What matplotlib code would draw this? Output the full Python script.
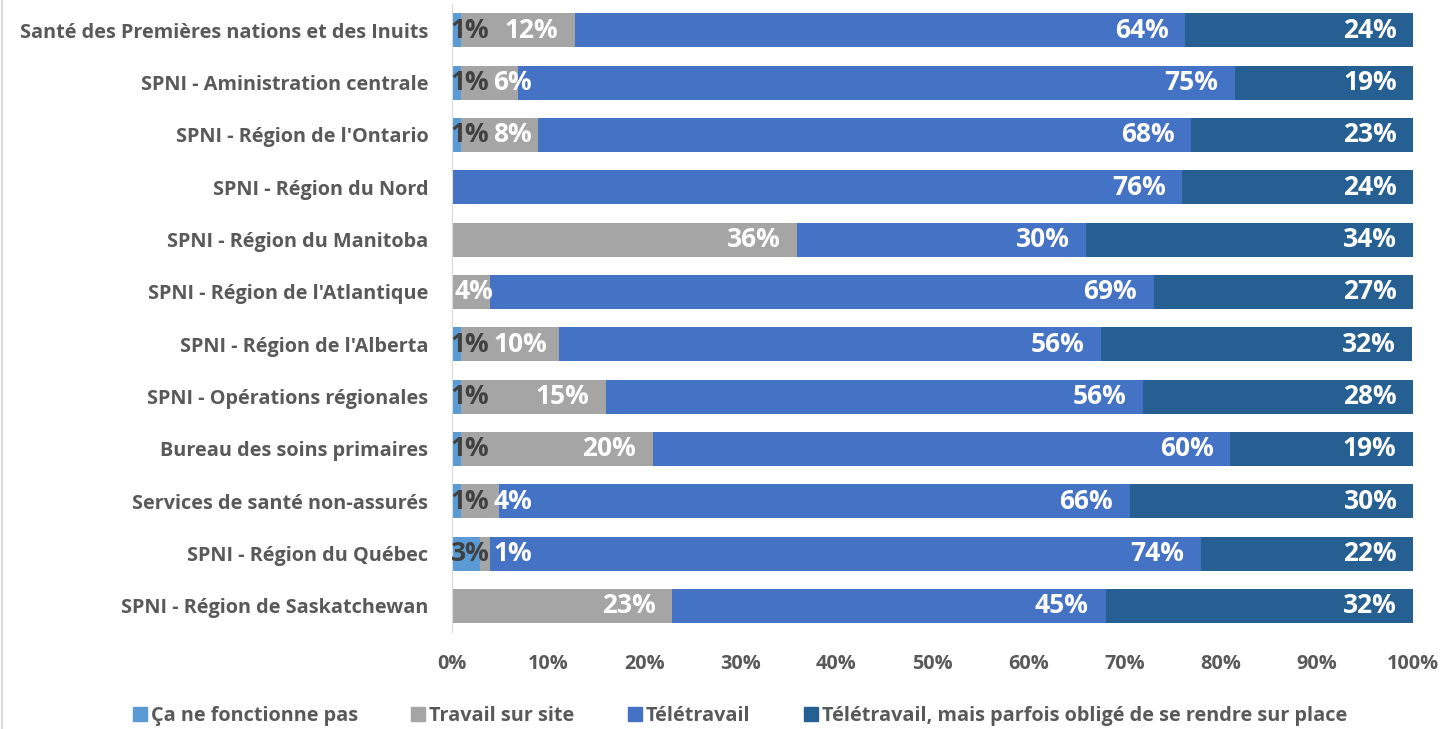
import matplotlib.pyplot as plt
import numpy as np
from matplotlib.lines import Line2D

plt.rcParams['font.family'] = ['Open Sans', 'DejaVu Sans']
plt.rcParams['font.weight'] = 'bold'

categories = [
    "Santé des Premières nations et des Inuits",
    "SPNI - Aministration centrale",
    "SPNI - Région de l'Ontario",
    "SPNI - Région du Nord",
    "SPNI - Région du Manitoba",
    "SPNI - Région de l'Atlantique",
    "SPNI - Région de l'Alberta",
    "SPNI - Opérations régionales",
    "Bureau des soins primaires",
    "Services de santé non-assurés",
    "SPNI - Région du Québec",
    "SPNI - Région de Saskatchewan",
]
series_names = ["Ça ne fonctionne pas", "Travail sur site", "Télétravail",
                "Télétravail, mais parfois obligé de se rendre sur place"]

ne_fonctionne_pas = [0.9, 0.9, 0.9, 0, 0, 0, 0.9, 0.9, 0.9, 0.9, 2.9, 0]
sur_site = [11.9, 6.0, 8.0, 0, 35.9, 4.0, 10.2, 15.1, 20.0, 4.0, 1.1, 22.9]
teletravail = [63.5, 74.6, 68.0, 76.0, 30.1, 69.0, 56.4, 55.9, 60.1, 65.6, 73.9, 45.1]
parfois_sur_place = [23.7, 18.6, 23.1, 24.0, 34.0, 27.0, 32.4, 28.1, 19.0, 29.6, 22.1, 32.0]

colors = ['#5B9BD5', '#A5A5A5', '#4472C4', '#265F91']
label_colors = ['#404040', 'white', 'white', 'white']

fig = plt.figure(figsize=(14.41, 7.29), dpi=100)
ax = fig.add_axes([0.3137, 0.133, 0.6669, 0.8615])

y = np.arange(len(categories))
data = [ne_fonctionne_pas, sur_site, teletravail, parfois_sur_place]
left = np.zeros(len(categories))
labels = {}
for i, vals in enumerate(data):
    vals = np.array(vals)
    ax.barh(y, vals, left=left, height=0.65, color=colors[i], label=series_names[i])
    for j, v in enumerate(vals):
        if v <= 0:
            continue
        txt = f"{v:.0f}%"
        kw = dict(textcoords='offset points', va='center', fontsize=19,
                  color=label_colors[i], fontweight='bold', annotation_clip=False)
        if i == 0:
            labels[(i, j)] = ax.annotate(txt, (0, y[j]), xytext=(-1, 0), ha='left', **kw)
        else:
            labels[(i, j)] = ax.annotate(txt, (left[j] + v, y[j]), xytext=(-12, 0),
                                         ha='right', **kw)
    left += vals

ax.set_xlim(0, 100)
ax.set_ylim(len(categories) - 0.5, -0.5)
ax.set_yticks(y)
ax.set_yticklabels(categories, fontsize=14.3, color='#595959', fontweight='bold')
ax.set_xticks(np.arange(0, 101, 10))
ax.set_xticklabels([f"{t}%" for t in range(0, 101, 10)], fontsize=14.3,
                   color='#595959', fontweight='bold')
ax.tick_params(axis='both', length=0)
ax.tick_params(axis='x', pad=16)
ax.tick_params(axis='y', pad=17)
for s in ['top', 'right', 'bottom']:
    ax.spines[s].set_visible(False)
ax.spines['left'].set_color('#D9D9D9')

# pousser les étiquettes grises trop à gauche (petits segments)
fig.canvas.draw()
r = fig.canvas.get_renderer()
x0_axis = ax.transData.transform((0, 0))[0]
for j in range(len(categories)):
    if (1, j) not in labels:
        continue
    lab = labels[(1, j)]
    bb = lab.get_window_extent(r)
    min_left = x0_axis + 2
    if (0, j) in labels:
        min_left = labels[(0, j)].get_window_extent(r).x1 + 4
    if bb.x0 < min_left:
        shift_pt = (min_left - bb.x0) * 72 / fig.dpi
        lab.xyann = (lab.xyann[0] + shift_pt, 0)

handles = [plt.Rectangle((0, 0), 1, 1, color=c) for c in colors]
fig.legend(handles, series_names, loc='center', bbox_to_anchor=(0.5135, 0.018), ncol=4,
           frameon=False, handlelength=0.7, handleheight=0.7,
           handletextpad=0.2, columnspacing=2.7,
           prop={'size': 14.3, 'weight': 'bold'}, labelcolor='#595959')

fig.add_artist(Line2D([0.0015, 0.0015], [0, 1], color='#D9D9D9', lw=1.5,
                      transform=fig.transFigure))

fig.savefig('out.png', dpi=100)
